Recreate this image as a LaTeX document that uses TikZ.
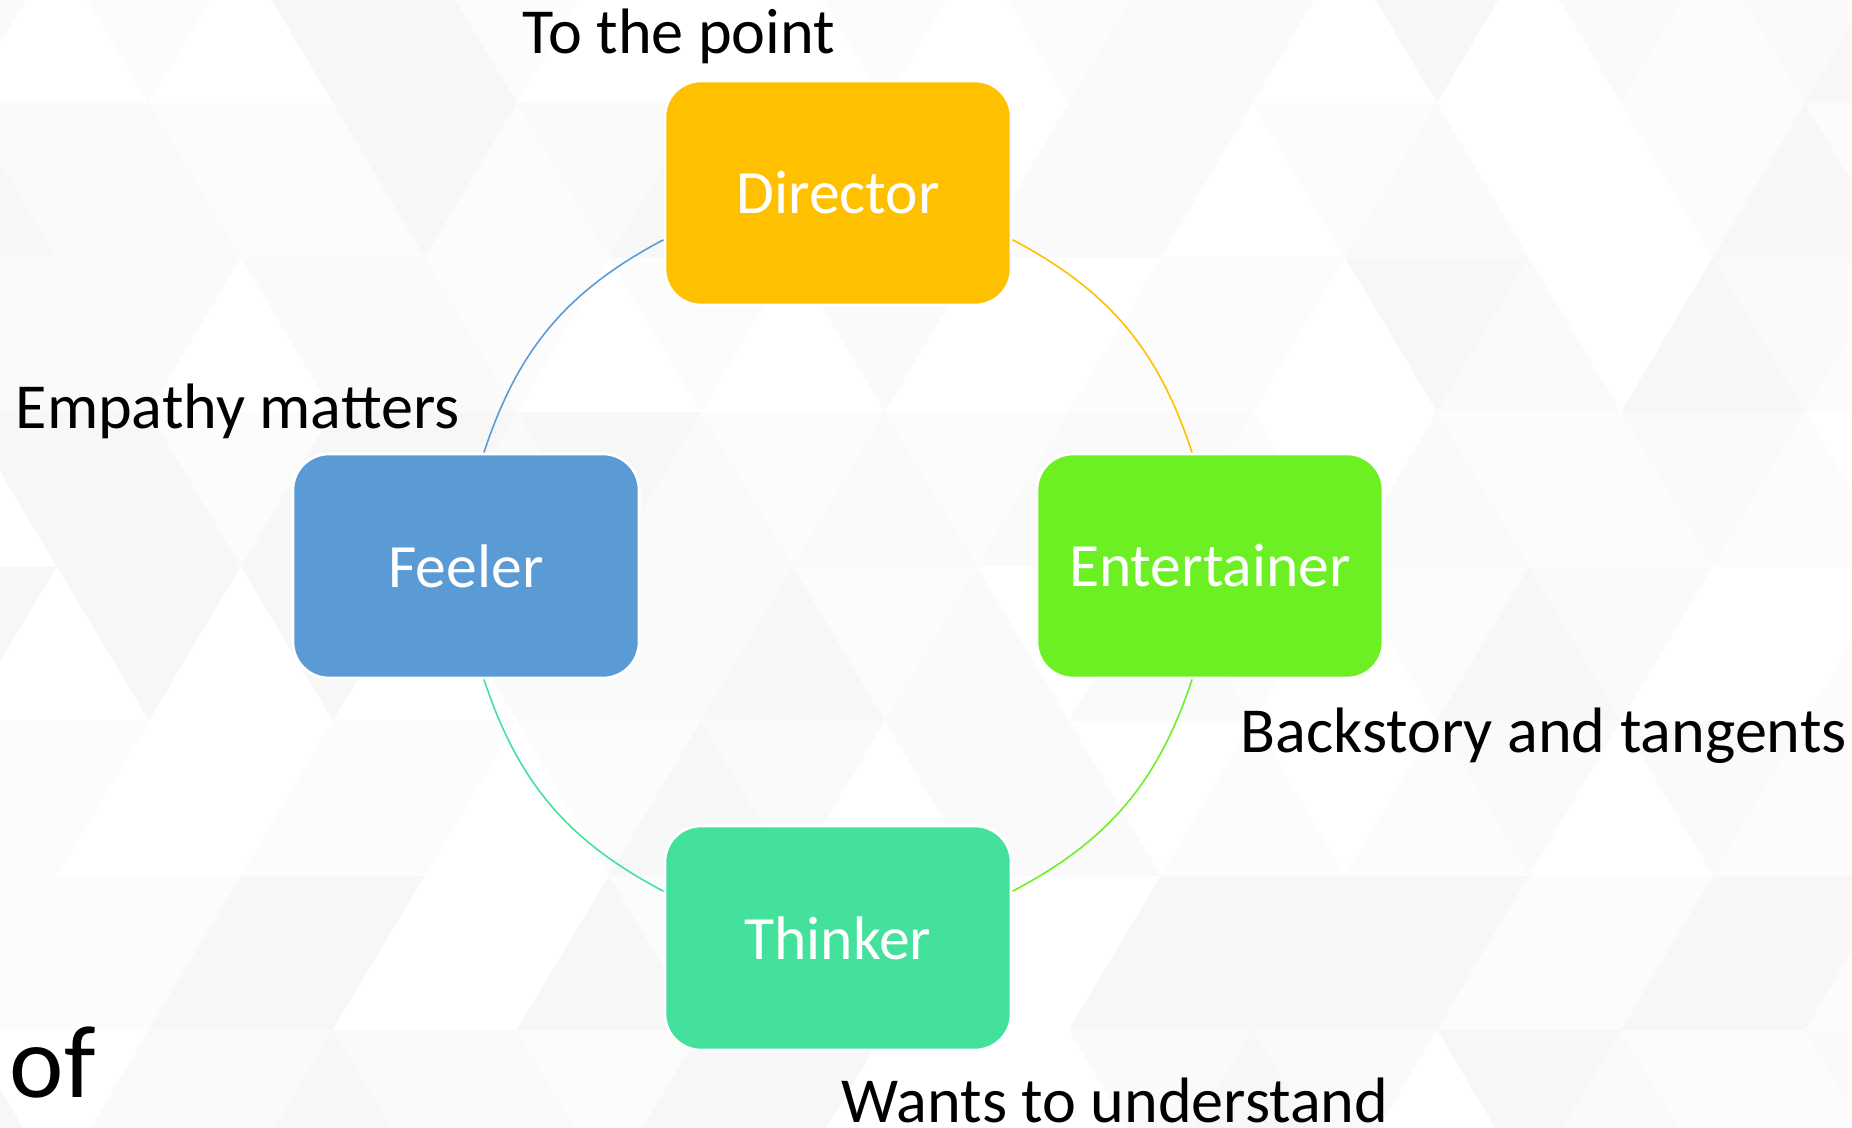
\documentclass[tikz,border=0pt]{standalone}
\usepackage{fontspec}
\setmainfont{Carlito}
\definecolor{directorgold}{HTML}{FFC000}
\definecolor{entertainergreen}{HTML}{6CF024}
\definecolor{thinkerteal}{HTML}{43E19C}
\definecolor{feelerblue}{HTML}{5B9BD5}
\begin{document}
\begin{tikzpicture}[x=0.01cm, y=0.01cm,
        role/.style={draw=white, line width=0.8pt, rounded corners=0.36cm, minimum width=3.46cm, minimum height=2.24cm, text=white, font=\fontsize{17.5}{21}\selectfont},
        note/.style={anchor=base west, inner sep=0pt, font=\fontsize{18.25}{21}\selectfont},
        link/.style={line width=0.45pt, bend left=22}]
        \useasboundingbox (0,0) rectangle (1852,1127);
        % faint triangle tiling behind everything
        \begin{scope}
            \clip (0,0) rectangle (1852,1127);
            \fill[white] (0,0) rectangle (1852,1127);
            \pgfmathsetseed{11}
            \foreach \m in {-1,...,7}{
                \pgfmathsetmacro{\ya}{97+154.5*\m}
                \pgfmathsetmacro{\off}{333-92*mod(\m+2,2)}
                \foreach \i in {-3,...,9}{
                    \pgfmathsetmacro{\xa}{\off+184*\i}
                    \pgfmathtruncatemacro{\ga}{random(0,3)*2}
                    \pgfmathtruncatemacro{\gb}{random(0,3)*2}
                    \fill[gray!\ga] (\xa,\ya) -- ++(184,0) -- ++(-92,154.5) -- cycle;
                    \fill[gray!\gb] (\xa+92,\ya+154.5) -- ++(184,0) -- ++(-92,-154.5) -- cycle;
                }
            }
        \end{scope}
        \node[role, fill=directorgold] (director) at (838,934) {Director};
        \node[role, fill=entertainergreen] (entertainer) at (1210,561) {Entertainer};
        \node[role, fill=thinkerteal] (thinker) at (838,189) {Thinker};
        \node[role, fill=feelerblue] (feeler) at (466,561) {Feeler};
        \draw[link, directorgold] (director.-15) to (entertainer.99);
        \draw[link, entertainergreen] (entertainer.-99) to (thinker.15);
        \draw[link, thinkerteal] (thinker.165) to (feeler.-81);
        \draw[link, feelerblue] (feeler.81) to (director.195);
        \node[note] (point) at (522,1073) {To the point};
        \node[note] (empathy) at (15,698) {Empathy matters};
        \node[note] (backstory) at (1240,375) {Backstory and tangents};
        \node[note] (understand) at (841,5) {Wants to understand};
        \node[note, font=\fontsize{29.3}{34}\selectfont] (of) at (9,30) {of};
    \end{tikzpicture}
\end{document}
